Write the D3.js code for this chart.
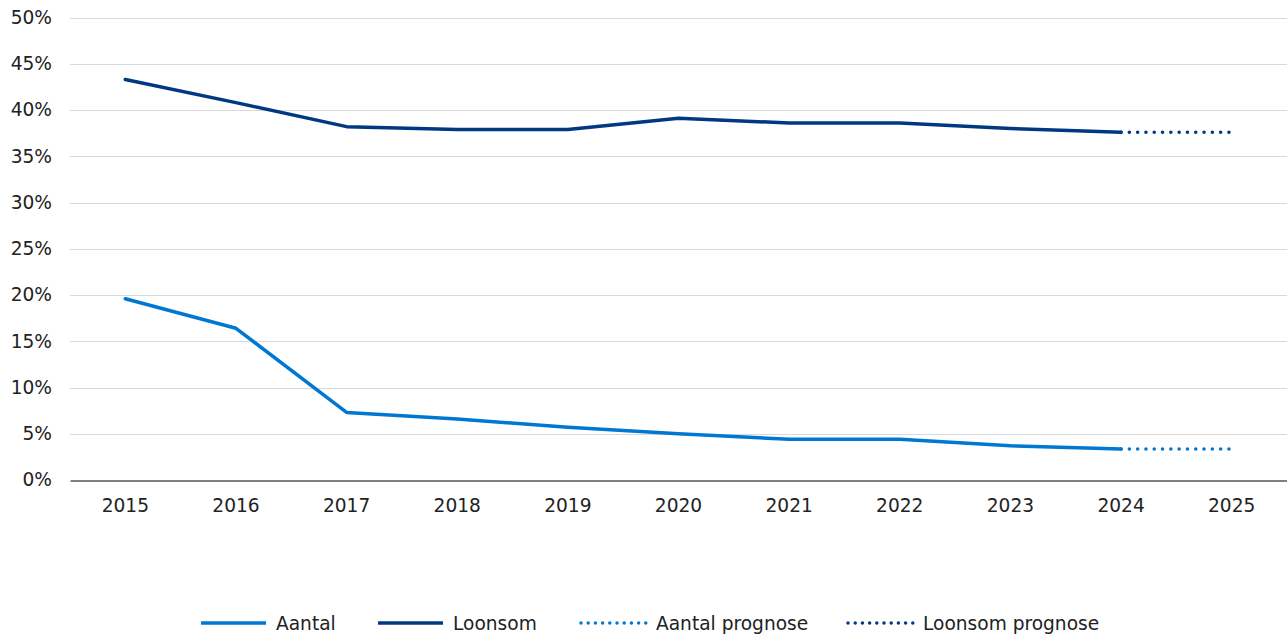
<!DOCTYPE html>
<html><head><meta charset="utf-8">
<script src="https://cdn.jsdelivr.net/npm/d3@7/dist/d3.min.js"></script>
<style>
html,body{margin:0;padding:0;background:#fff;}
svg{display:block;font-family:"DejaVu Sans",Verdana,sans-serif;}
</style></head>
<body>
<svg id="chart" width="1287" height="637"></svg>
<script>
const years = ["2015","2016","2017","2018","2019","2020","2021","2022","2023","2024","2025"];
const aantal = [19.6, 16.4, 7.3, 6.6, 5.7, 5.0, 4.4, 4.4, 3.7, 3.35, null];
const loonsom = [43.3, 40.8, 38.2, 37.9, 37.9, 39.1, 38.6, 38.6, 38.0, 37.6, null];
const aantalPrognose = [null, null, null, null, null, null, null, null, null, 3.35, 3.35];
const loonsomPrognose = [null, null, null, null, null, null, null, null, null, 37.6, 37.6];
const yTicks = [0, 5, 10, 15, 20, 25, 30, 35, 40, 45, 50];

const colAantal = "#0078D2", colLoonsom = "#003882";
const FS = 18.6;
const svg = d3.select("#chart");
const m = {left: 70, right: 1287, top: 17.5, bottom: 480};

const x = d3.scaleBand().domain(years).range([m.left, m.right]);
const y = d3.scaleLinear().domain([0, 50]).range([m.bottom, m.top]);
const cx = d => x(d) + x.bandwidth() / 2;

// gridlines
svg.append("g").selectAll("line").data(yTicks.filter(t => t > 0)).join("line")
  .attr("x1", m.left).attr("x2", m.right)
  .attr("y1", d => Math.round(y(d)) + 0.5).attr("y2", d => Math.round(y(d)) + 0.5)
  .attr("stroke", "#d9d9d9").attr("stroke-width", 1);

// y axis labels
const yAxis = d3.axisLeft(y).tickValues(yTicks).tickFormat(d => d + "%").tickSize(0).tickPadding(18);
const gy = svg.append("g").attr("transform", `translate(${m.left},0)`).call(yAxis);
gy.select(".domain").remove();
gy.selectAll("text").attr("font-size", FS).attr("fill", "#222").attr("font-family", "DejaVu Sans, Verdana, sans-serif");

// x axis
const xAxis = d3.axisBottom(x).tickSize(0).tickPadding(18);
const gx = svg.append("g").attr("transform", `translate(0,${Math.round(y(0)) + 0.5})`).call(xAxis);
gx.select(".domain").attr("stroke", "#000").attr("stroke-width", 1);
gx.selectAll("text").attr("font-size", FS).attr("fill", "#222").attr("font-family", "DejaVu Sans, Verdana, sans-serif");

const line = d3.line().defined(d => d.v != null).x(d => cx(d.k)).y(d => y(d.v));
const toPts = arr => years.map((k, i) => ({k, v: arr[i]}));

function drawLine(arr, color, dotted) {
  const p = svg.append("path").datum(toPts(arr)).attr("d", line)
    .attr("fill", "none").attr("stroke", color).attr("stroke-width", 3.5)
    .attr("stroke-linejoin", "round");
  if (dotted) p.attr("stroke-dasharray", "0 8.3").attr("stroke-linecap", "round").attr("stroke-width", 3.6);
  else p.attr("stroke-linecap", "round");
}
drawLine(aantalPrognose, colAantal, true);
drawLine(loonsomPrognose, colLoonsom, true);
drawLine(aantal, colAantal, false);
drawLine(loonsom, colLoonsom, false);

// legend
const legend = [
  {name: "Aantal", color: colAantal, dotted: false, x: 200},
  {name: "Loonsom", color: colLoonsom, dotted: false, x: 377},
  {name: "Aantal prognose", color: colAantal, dotted: true, x: 580},
  {name: "Loonsom prognose", color: colLoonsom, dotted: true, x: 847}
];
const ly = 623;
const lg = svg.append("g").selectAll("g").data(legend).join("g");
lg.append("line").attr("x1", d => d.x + 1).attr("x2", d => d.x + 66).attr("y1", ly).attr("y2", ly)
  .attr("stroke", d => d.color).attr("stroke-width", 3.5)
  .attr("stroke-dasharray", d => d.dotted ? "0 7.2" : null)
  .attr("stroke-linecap", d => d.dotted ? "round" : "butt");
lg.append("text").attr("x", d => d.x + 76).attr("y", ly).attr("dy", "0.35em")
  .attr("font-size", FS).attr("fill", "#222").text(d => d.name);
</script>
</body></html>
